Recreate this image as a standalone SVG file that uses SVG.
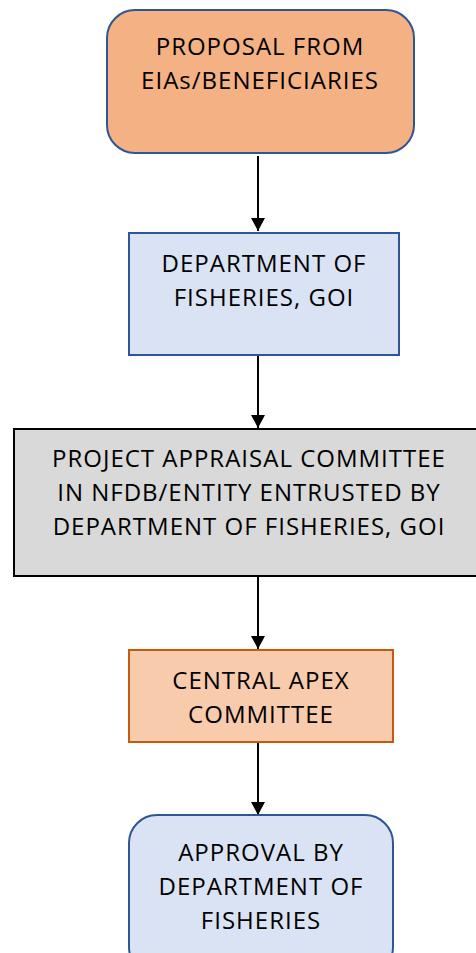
<svg xmlns="http://www.w3.org/2000/svg" width="476" height="953" viewBox="0 0 476 953">
<defs>
<marker id="ah" markerWidth="14" markerHeight="14" refX="13" refY="7" orient="auto" markerUnits="userSpaceOnUse" viewBox="0 0 14 14">
<path d="M0,0 L13,7 L0,14 z" fill="#000"/>
</marker>
<style>
text{font-family:"Open Sans","Noto Sans",sans-serif;font-size:24px;letter-spacing:1px;fill:#000;text-anchor:middle}
.c{stroke:#000;stroke-width:2;fill:none;marker-end:url(#ah)}
</style>
</defs>
<rect width="476" height="953" fill="#fff"/>
<g id="connectors">
<line class="c" x1="258" y1="156" x2="258" y2="231"/>
<line class="c" x1="258" y1="356" x2="258" y2="428"/>
<line class="c" x1="258" y1="577" x2="258" y2="649"/>
<line class="c" x1="258" y1="743" x2="258" y2="815"/>
</g>
<g id="n1">
<rect x="107" y="10" width="307" height="143" rx="28" fill="#F4B183" stroke="#2F5597" stroke-width="2"/>
<text x="260" y="55">PROPOSAL FROM</text>
<text x="260" y="89">EIAs/BENEFICIARIES</text>
</g>
<g id="n2">
<rect x="129" y="233" width="270" height="122" fill="#DAE3F3" stroke="#2F5597" stroke-width="2"/>
<text x="264" y="272">DEPARTMENT OF</text>
<text x="264" y="306">FISHERIES, GOI</text>
</g>
<g id="n3">
<rect x="14" y="429" width="470" height="147" fill="#D9D9D9" stroke="#000" stroke-width="2"/>
<text x="249" y="467">PROJECT APPRAISAL COMMITTEE</text>
<text x="249" y="501">IN NFDB/ENTITY ENTRUSTED BY</text>
<text x="249" y="535">DEPARTMENT OF FISHERIES, GOI</text>
</g>
<g id="n4">
<rect x="129" y="650" width="264" height="92" fill="#F8CBAD" stroke="#C55A11" stroke-width="2"/>
<text x="261" y="689">CENTRAL APEX</text>
<text x="261" y="723">COMMITTEE</text>
</g>
<g id="n5">
<rect x="129" y="815" width="264" height="160" rx="28" fill="#DAE3F3" stroke="#2F5597" stroke-width="2"/>
<text x="261" y="861">APPROVAL BY</text>
<text x="261" y="895">DEPARTMENT OF</text>
<text x="261" y="929">FISHERIES</text>
</g>
</svg>
